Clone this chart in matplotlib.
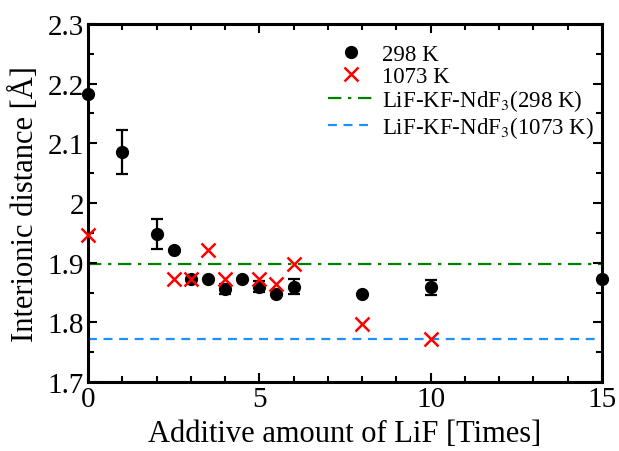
import matplotlib
matplotlib.use("Agg")
import matplotlib.pyplot as plt
from matplotlib.ticker import MultipleLocator, FixedLocator
from matplotlib.lines import Line2D

# ---- data ----
x298 = [0, 1, 2, 2.5, 3, 3.5, 4, 4.5, 5, 5.5, 6, 8, 10, 15]
y298 = [2.182, 2.086, 1.948, 1.922, 1.873, 1.873, 1.856, 1.873, 1.860, 1.848, 1.860, 1.848, 1.859, 1.873]
err298 = [0, 0.037, 0.025, 0, 0, 0, 0.009, 0, 0.009, 0, 0.012, 0, 0.0125, 0]

x1073 = [0, 2.5, 3, 3.5, 4, 5, 5.5, 6, 8, 10]
y1073 = [1.947, 1.873, 1.873, 1.922, 1.873, 1.873, 1.864, 1.897, 1.797, 1.772]

ref298 = 1.897
ref1073 = 1.772

yticks = [1.7, 1.8, 1.9, 2.0, 2.1, 2.2, 2.3]
ytick_labels = ["1.7", "1.8", "1.9", "2", "2.1", "2.2", "2.3"]
xticks = [0, 5, 10, 15]
xtick_labels = ["0", "5", "10", "15"]

labels = ["298 K", "1073 K", "LiF-KF-NdF$_3$(298 K)", "LiF-KF-NdF$_3$(1073 K)"]

# ---- style ----
plt.rcParams['font.family'] = ['Liberation Serif', 'DejaVu Serif']
plt.rcParams['mathtext.fontset'] = 'stix'

fig = plt.figure(figsize=(6.19, 4.52), dpi=100)
ax = fig.add_axes([88/619, 1-383/452, (602-88)/619, (383-25)/452])

l_green = ax.axhline(ref298, color='green', lw=1.6, dashes=(6, 3, 1.5, 3), zorder=1)
l_blue = ax.axhline(ref1073, color='#1E90FF', lw=1.6, dashes=(4, 3), zorder=1)

eb = ax.errorbar(x298, y298, yerr=err298, fmt='o', color='black', ms=8.5,
                 ecolor='black', elinewidth=1.6, capsize=4.3, capthick=1.6,
                 zorder=3, clip_on=False)
sc, = ax.plot(x1073, y1073, 'x', color='red', ms=9.5, mew=1.8, zorder=4,
              linestyle='none', clip_on=False)

ax.set_xlim(0, 15)
ax.set_ylim(1.7, 2.3)
ax.xaxis.set_major_locator(FixedLocator(xticks))
ax.set_xticklabels(xtick_labels)
ax.xaxis.set_minor_locator(MultipleLocator(1))
ax.yaxis.set_major_locator(FixedLocator(yticks))
ax.set_yticklabels(ytick_labels)
ax.yaxis.set_minor_locator(MultipleLocator(0.05))

for s in ax.spines.values():
    s.set_linewidth(2.2)
ax.tick_params(which='both', direction='in', top=True, right=True, labelsize=21, width=1.5)
ax.tick_params(which='major', length=6.5, pad=3)
ax.tick_params(which='minor', length=4)

ax.set_xlabel("Additive amount of LiF [Times]", fontsize=22, labelpad=5)
ax.set_ylabel("Interionic distance [Å]", fontsize=22, labelpad=5)

h0 = Line2D([], [], marker='o', color='black', ms=8.5, ls='none')
h1 = Line2D([], [], marker='x', color='red', ms=9.5, mew=1.8, ls='none')
leg = ax.legend([h0, h1, l_green, l_blue], labels, loc='upper right',
                bbox_to_anchor=(594/619, 1-45/452), bbox_transform=fig.transFigure,
                frameon=False, fontsize=16.5, handlelength=2.0, handletextpad=0.35,
                labelspacing=0.03, borderpad=0, borderaxespad=0)

fig.savefig("out.png", dpi=100)
